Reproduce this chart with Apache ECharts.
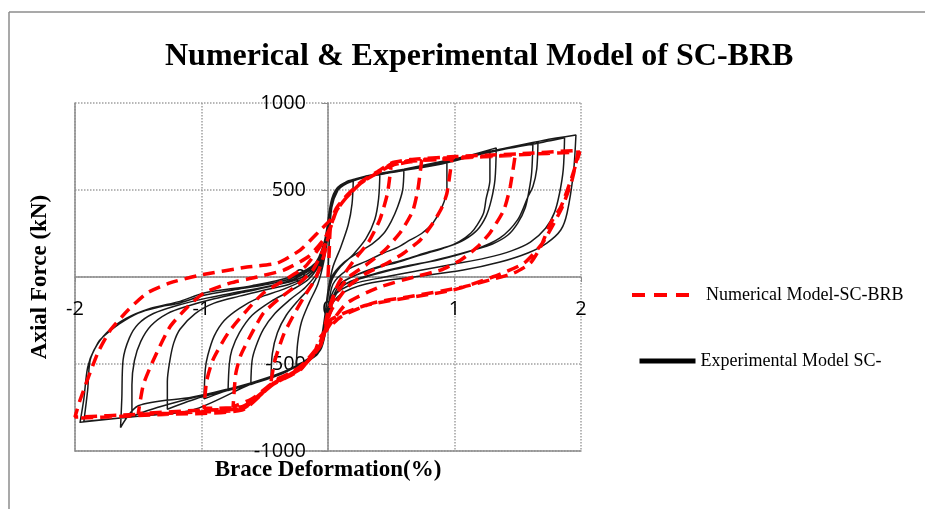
<!DOCTYPE html>
<html>
<head>
<meta charset="utf-8">
<script src="https://cdn.jsdelivr.net/npm/echarts@6/dist/echarts.min.js"></script>
<style>
html,body{margin:0;padding:0;background:#fff;}
#chart{width:925px;height:509px;}
</style>
</head>
<body>
<div id="chart"></div>
<script>
// ---- Data (x: Brace Deformation %, y: Axial Force kN) ----
var titleText = 'Numerical & Experimental Model of SC-BRB';
var xName = 'Brace Deformation(%)';
var yName = 'Axial Force (kN)';
var seriesNames = ['Numerical Model-SC-BRB', 'Experimental Model SC-'];
var xTicks = [-2, -1, 0, 1, 2];
var yTicks = [-1000, -500, 0, 500, 1000];

// Numerical model loops (red dashed)
var numA05 = [[0,0],[0.01,150],[0.02,287],[0.07,385],[0.15,460],[0.26,540],[0.39,598],[0.5,645],
  [0.47,480],[0.41,330],[0.32,200],[0.2,90],[0.08,-40],[0.0,-200],[-0.06,-380],[-0.22,-515],[-0.35,-570],[-0.45,-600],
  [-0.42,-480],[-0.35,-330],[-0.28,-230],[-0.19,-115],[-0.1,-10],[-0.03,130],[0.02,287]];
var numA075 = [[0.07,385],[0.15,460],[0.26,540],[0.39,598],[0.5,640],[0.65,662],[0.74,668],
  [0.71,500],[0.67,380],[0.58,265],[0.45,155],[0.3,69],[0.15,-10],[0.03,-150],[-0.06,-390],[-0.22,-520],[-0.43,-605],[-0.6,-700],[-0.75,-745],
  [-0.73,-560],[-0.69,-450],[-0.6,-320],[-0.51,-207],[-0.38,-121],[-0.25,-50],[-0.12,40],[-0.03,170],[0.02,287]];
var numA10 = [[0.07,385],[0.15,460],[0.26,540],[0.39,598],[0.5,640],[0.65,665],[0.98,678],
  [0.94,480],[0.9,400],[0.83,310],[0.73,213],[0.6,138],[0.47,80],[0.3,20],[0.15,-60],[0.02,-200],[-0.06,-395],[-0.22,-525],[-0.43,-610],[-0.68,-745],[-0.98,-755],
  [-0.96,-600],[-0.91,-477],[-0.79,-322],[-0.64,-190],[-0.51,-92],[-0.35,-20],[-0.18,60],[-0.05,190],[0.02,287]];
var numA15 = [[0.07,385],[0.15,460],[0.26,540],[0.39,598],[0.5,645],[0.65,668],[1.0,682],[1.48,700],
  [1.44,517],[1.39,385],[1.28,253],[1.18,172],[1.05,98],[0.89,40],[0.68,0],[0.4,-60],[0.15,-150],[0.0,-290],[-0.07,-405],[-0.22,-530],[-0.43,-612],[-0.68,-755],[-1.0,-765],[-1.5,-785],
  [-1.46,-620],[-1.38,-477],[-1.25,-287],[-1.11,-172],[-0.98,-92],[-0.77,-34],[-0.56,0],[-0.35,40],[-0.15,120],[0.0,250]];
var numA20 = [[0.07,385],[0.15,460],[0.26,540],[0.39,598],[0.5,648],[0.65,670],[1.0,688],[1.5,703],[1.99,718],
  [1.92,557],[1.84,402],[1.76,310],[1.68,172],[1.6,80],[1.47,23],[1.28,-17],[1.07,-57],[0.63,-115],[0.36,-149],[0.1,-230],[-0.06,-345],[-0.1,-420],[-0.22,-535],[-0.43,-615],[-0.68,-760],[-1.0,-775],[-1.5,-790],[-2.0,-805],
  [-1.96,-707],[-1.82,-437],[-1.72,-305],[-1.58,-190],[-1.43,-92],[-1.25,-34],[-1.01,11],[-0.64,57],[-0.4,80],[-0.22,155],[-0.06,270],[0.02,330]];
var numA20b = [[0.07,400],[0.15,470],[0.26,545],[0.39,605],[0.5,655],[0.65,675],[1.0,692],[1.5,708],[1.98,728],
  [1.93,560],[1.85,400],[1.7,200],[1.55,80],[1.3,0],[0.99,-75],[0.31,-161],[0.02,-247],[-0.08,-400],[-0.25,-540],[-0.45,-625],[-0.68,-765],[-1.3,-790],[-1.99,-812]];

// Experimental loops (black)
var expL1 = [[0,0],[0.01,200],[0.03,400],[0.08,500],[0.14,545],[0.2,560],
  [0.19,420],[0.16,300],[0.1,170],[0.04,60],[0.0,-80],[-0.03,-250],[-0.07,-400],[-0.15,-470],[-0.25,-505],
  [-0.24,-380],[-0.21,-260],[-0.15,-150],[-0.08,-40],[-0.03,100],[0.0,250],[0.02,380]];
var expL2 = [[0.05,470],[0.1,520],[0.2,555],[0.3,575],[0.41,592],
  [0.40,450],[0.37,330],[0.3,220],[0.2,130],[0.1,60],[0.03,-20],[-0.01,-150],[-0.04,-300],[-0.08,-420],[-0.2,-490],[-0.33,-545],[-0.45,-580],
  [-0.44,-440],[-0.4,-320],[-0.33,-220],[-0.23,-130],[-0.13,-50],[-0.05,60],[-0.01,200],[0.01,330]];
var expL3 = [[0.04,450],[0.09,510],[0.16,548],[0.3,575],[0.45,595],[0.6,612],
  [0.59,500],[0.55,402],[0.5,320],[0.44,250],[0.35,190],[0.26,150],[0.12,80],[0.03,0],[-0.01,-150],[-0.04,-320],[-0.09,-430],[-0.2,-495],[-0.4,-560],[-0.61,-618],
  [-0.6,-480],[-0.57,-400],[-0.51,-300],[-0.42,-210],[-0.3,-130],[-0.18,-60],[-0.08,30],[-0.02,170],[0.01,320]];
var expL4 = [[0.04,450],[0.1,520],[0.2,558],[0.4,588],[0.6,615],[0.8,640],[0.94,665],
  [0.94,500],[0.9,400],[0.83,310],[0.74,250],[0.65,213],[0.55,170],[0.44,138],[0.3,90],[0.15,40],[0.04,-40],[0.0,-180],[-0.04,-340],[-0.09,-435],[-0.22,-500],[-0.4,-560],[-0.6,-612],[-0.79,-652],
  [-0.78,-500],[-0.76,-420],[-0.7,-320],[-0.6,-220],[-0.45,-140],[-0.3,-80],[-0.15,-10],[-0.05,100],[0.0,260]];
var expL5 = [[0.03,420],[0.08,505],[0.18,555],[0.35,582],[0.6,615],[0.9,655],[1.1,690],[1.28,730],
  [1.28,557],[1.25,450],[1.23,368],[1.18,300],[1.13,253],[1.04,205],[0.94,172],[0.8,140],[0.68,115],[0.55,85],[0.41,57],[0.2,5],[0.06,-60],[0.0,-170],[-0.04,-330],[-0.09,-440],[-0.25,-510],[-0.45,-575],[-0.65,-620],[-0.83,-660],[-0.98,-700],
  [-0.97,-530],[-0.95,-450],[-0.9,-340],[-0.82,-250],[-0.7,-180],[-0.55,-120],[-0.35,-70],[-0.18,-10],[-0.07,80],[-0.01,230]];
var expL6 = [[0.03,430],[0.1,515],[0.25,565],[0.5,600],[0.8,640],[1.1,695],[1.33,742],
  [1.32,560],[1.29,440],[1.25,350],[1.18,270],[1.08,215],[0.95,175],[0.8,145],[0.6,100],[0.41,62],[0.25,20],[0.1,-40],[0.02,-150],[-0.03,-320],[-0.08,-440],[-0.2,-495],[-0.45,-580],[-0.7,-635],[-1.0,-690],[-1.27,-760],
  [-1.27,-600],[-1.25,-480],[-1.22,-380],[-1.17,-300],[-1.05,-210],[-0.9,-150],[-0.7,-110],[-0.5,-75],[-0.3,-40],[-0.15,10],[-0.05,110],[0.0,270]];
var expL7 = [[0.03,440],[0.1,520],[0.25,565],[0.5,600],[0.9,650],[1.2,705],[1.45,745],[1.62,772],
  [1.61,600],[1.59,500],[1.56,400],[1.5,310],[1.42,240],[1.3,190],[1.15,155],[0.95,115],[0.75,80],[0.5,40],[0.3,0],[0.12,-50],[0.03,-150],[-0.02,-300],[-0.07,-430],[-0.2,-495],[-0.5,-590],[-0.8,-645],[-1.1,-700],[-1.35,-750],[-1.55,-800],
  [-1.55,-620],[-1.53,-480],[-1.48,-370],[-1.4,-280],[-1.27,-210],[-1.1,-165],[-0.9,-125],[-0.65,-85],[-0.4,-45],[-0.2,0],[-0.07,90],[-0.01,240]];
var expL8 = [[0.03,430],[0.1,520],[0.3,575],[0.6,615],[1.0,670],[1.3,725],[1.5,755],[1.66,778],
  [1.65,620],[1.62,520],[1.58,460],[1.5,330],[1.36,225],[1.15,155],[0.87,98],[0.6,60],[0.35,15],[0.15,-35],[0.04,-120],[-0.01,-280],[-0.06,-420],[-0.2,-500],[-0.61,-609],[-1.07,-690],[-1.5,-740],[-1.64,-865],
  [-1.63,-700],[-1.62,-477],[-1.57,-350],[-1.5,-270],[-1.38,-210],[-1.2,-165],[-0.95,-120],[-0.7,-85],[-0.45,-50],[-0.25,-5],[-0.1,70],[-0.02,220]];
var expL9 = [[0.03,440],[0.1,525],[0.3,578],[0.6,617],[1.0,672],[1.4,735],[1.7,775],[1.87,800],
  [1.86,620],[1.83,480],[1.79,370],[1.72,280],[1.6,200],[1.45,150],[1.25,110],[1.0,75],[0.7,35],[0.45,0],[0.2,-40],[0.06,-100],[0.0,-220],[-0.04,-360],[-0.09,-450],[-0.3,-530],[-0.61,-615],[-1.07,-764],[-1.5,-800],[-1.93,-830],
  [-1.9,-650],[-1.88,-477],[-1.82,-380],[-1.78,-345],[-1.65,-270],[-1.5,-207],[-1.35,-175],[-1.17,-149],[-0.98,-105],[-0.75,-75],[-0.5,-45],[-0.3,-10],[-0.12,60],[-0.03,200]];
var expL10 = [[0.03,450],[0.1,530],[0.3,580],[0.6,620],[1.0,680],[1.4,740],[1.7,785],[1.96,816],
  [1.94,598],[1.89,368],[1.84,270],[1.73,195],[1.58,138],[1.36,86],[1.07,40],[0.68,0],[0.3,-40],[0.1,-100],[0.0,-200],[-0.05,-350],[-0.1,-450],[-0.3,-530],[-0.61,-615],[-1.07,-764],[-1.5,-800],[-1.96,-835],
  [-1.93,-700],[-1.9,-520],[-1.85,-420],[-1.75,-320],[-1.6,-240],[-1.4,-180],[-1.17,-140],[-0.98,-92],[-0.6,-50],[-0.3,0],[-0.1,80],[0.0,250]];

var numData = [].concat(numA05, numA075, numA10, numA15, numA20, numA20b);
var expData = [].concat(expL1, expL2, expL3, expL4, expL5, expL6, expL7, expL8, expL9, expL10);

var chart = echarts.init(document.getElementById('chart'), null, {renderer: 'canvas'});
var axisGray = '#8c8c8c';
var gridGray = '#a0a0a0';
var labelFont = 'Open Sans';
var serif = '"Liberation Serif", "Times New Roman", serif';
var plainNum = function (v) { return String(v); };
var hideSym = {color: 'rgba(0,0,0,0)', borderWidth: 0, opacity: 0};

chart.setOption({
  animation: false,
  backgroundColor: '#ffffff',
  title: {
    text: titleText,
    left: 160, top: 36,
    textStyle: {fontFamily: serif, fontWeight: 'bold', fontSize: 32, color: '#000'}
  },
  legend: [
    {
      left: 625, top: 281, orient: 'vertical',
      itemWidth: 57, itemHeight: 16,
      data: [{name: seriesNames[0], itemStyle: hideSym, lineStyle: {width: 4, type: [13, 9], color: '#ff0000'}}],
      textStyle: {fontFamily: serif, fontSize: 18, color: '#000', padding: [0, 0, 0, 12]}
    },
    {
      left: 632, top: 347, orient: 'vertical',
      itemWidth: 56, itemHeight: 16,
      data: [{name: seriesNames[1], itemStyle: hideSym, lineStyle: {width: 5, type: 'solid', color: '#000'}}],
      textStyle: {fontFamily: serif, fontSize: 18, color: '#000'}
    }
  ],
  graphic: [
    {type: 'line', shape: {x1: 9, y1: 12, x2: 925, y2: 12}, style: {stroke: '#8c8c8c', lineWidth: 1.5}, silent: true},
    {type: 'line', shape: {x1: 9, y1: 12, x2: 9, y2: 509}, style: {stroke: '#8c8c8c', lineWidth: 1.5}, silent: true}
  ],
  grid: {left: 75, right: 344, top: 103, bottom: 58, containLabel: false},
  xAxis: [
    {
      type: 'value', position: 'bottom', offset: -174,
      min: xTicks[0], max: xTicks[xTicks.length - 1], interval: 1,
      axisLine: {show: true, onZero: false, lineStyle: {color: axisGray, width: 1.5}},
      axisTick: {show: true, length: 5, lineStyle: {color: axisGray}},
      axisLabel: {margin: 22, fontFamily: labelFont, fontSize: 20, color: '#000', formatter: plainNum},
      splitLine: {show: true, lineStyle: {color: gridGray, type: 'dotted', width: 1.5}}
    },
    {
      type: 'value', position: 'bottom', min: xTicks[0], max: xTicks[xTicks.length - 1], interval: 1,
      axisLine: {show: true, onZero: false, lineStyle: {color: axisGray, width: 1.5}},
      axisTick: {show: false}, axisLabel: {show: false}, splitLine: {show: false},
      name: xName, nameLocation: 'middle', nameGap: 8,
      nameTextStyle: {fontFamily: serif, fontWeight: 'bold', fontSize: 23, color: '#000'}
    }
  ],
  yAxis: [
    {
      type: 'value', position: 'left', offset: -253,
      min: yTicks[0], max: yTicks[yTicks.length - 1], interval: 500,
      axisLine: {show: true, onZero: false, lineStyle: {color: axisGray, width: 1.5}},
      axisTick: {show: true, length: 6, lineStyle: {color: axisGray}},
      axisLabel: {margin: 22, fontFamily: labelFont, fontSize: 20, color: '#000', formatter: plainNum},
      splitLine: {show: true, lineStyle: {color: gridGray, type: 'dotted', width: 1.5}}
    },
    {
      type: 'value', position: 'left', min: yTicks[0], max: yTicks[yTicks.length - 1], interval: 500,
      axisLine: {show: true, onZero: false, lineStyle: {color: axisGray, width: 1.5}},
      axisTick: {show: false}, axisLabel: {show: false}, splitLine: {show: false},
      name: yName, nameLocation: 'middle', nameGap: 23, nameRotate: 90,
      nameTextStyle: {fontFamily: serif, fontWeight: 'bold', fontSize: 23, color: '#000'}
    }
  ],
  series: [
    {
      name: seriesNames[1], type: 'line', xAxisIndex: 0, yAxisIndex: 0,
      data: expData, symbol: 'none', showSymbol: false, smooth: 0.3,
      lineStyle: {color: '#1a1a1a', width: 1.5}, itemStyle: {color: '#000'}, z: 2
    },
    {
      name: seriesNames[0], type: 'line', xAxisIndex: 0, yAxisIndex: 0,
      data: numData, symbol: 'none', showSymbol: false, smooth: 0.2,
      lineStyle: {color: '#ff0000', width: 3.5, type: [12, 7]}, itemStyle: {color: '#ff0000'}, z: 3
    }
  ]
});
</script>
</body>
</html>
